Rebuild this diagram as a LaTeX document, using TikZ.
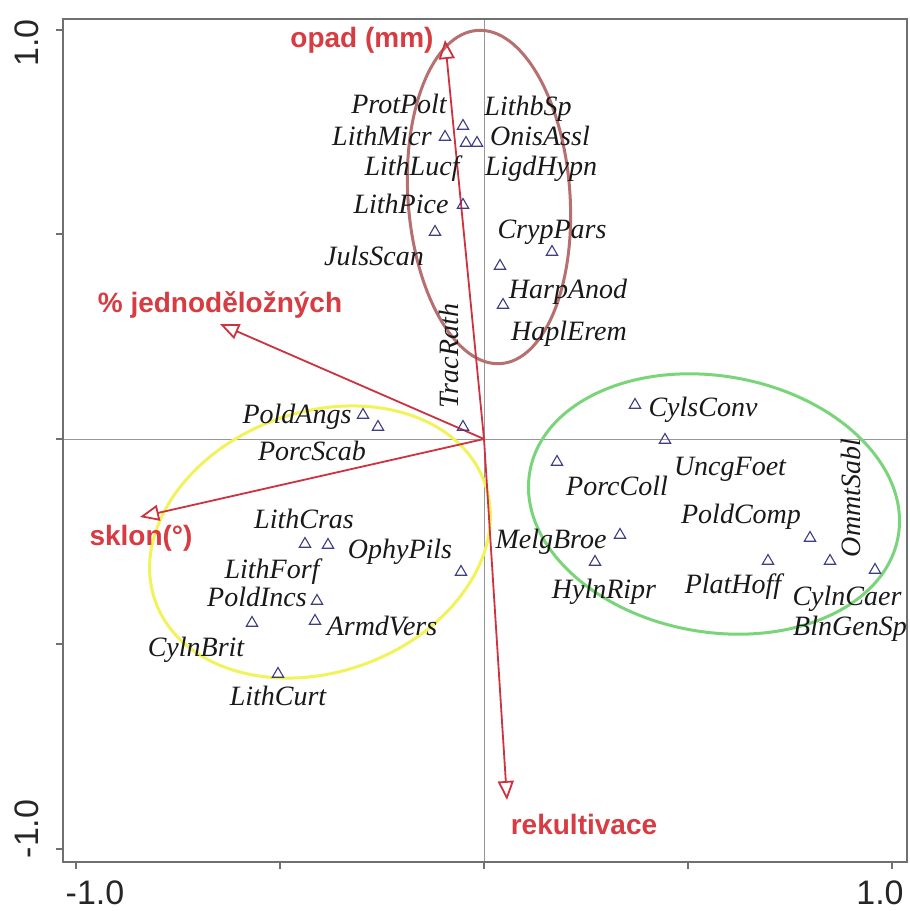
\documentclass[tikz,border=0pt]{standalone}
\usepackage{fontspec}
\setmainfont{Liberation Serif}
\setsansfont{Liberation Sans}
\usetikzlibrary{arrows.meta,shapes.geometric}
\definecolor{arrred}{RGB}{205,50,62}
\definecolor{labred}{RGB}{214,60,66}
\definecolor{ellbrown}{RGB}{182,112,112}
\definecolor{ellyellow}{RGB}{242,242,90}
\definecolor{ellgreen}{RGB}{122,212,122}
\definecolor{trinavy}{RGB}{62,62,132}
\definecolor{axisgrey}{RGB}{112,112,112}
\definecolor{midgrey}{RGB}{150,150,150}
\definecolor{spink}{RGB}{25,25,25}
\begin{document}
\begin{tikzpicture}[x=1pt,y=-1pt,
 spbase/.style={font=\fontsize{28}{30}\selectfont\itshape, text=spink, inner sep=0pt, text height=0.66em, text depth=0pt},
 sp/.style={spbase, yshift=-5pt},
 spv/.style={spbase, rotate=90},
 tri/.style={regular polygon, regular polygon sides=3, draw=trinavy, line width=1.1pt, minimum size=13pt, inner sep=0pt},
 envlab/.style={font=\fontsize{28}{30}\selectfont\sffamily\bfseries, text=labred, inner sep=0pt},
 envarr/.style={draw=arrred, line width=1.8pt, -{Triangle[open, length=19pt, width=16pt]}},
 ticklab/.style={font=\fontsize{34}{36}\selectfont\sffamily, text=black!85, inner sep=0pt},
 ell/.style={line width=3pt}
]
\useasboundingbox (0,0) rectangle (910,911);
\fill[white] (0,0) rectangle (910,911);
% centre lines
\draw[midgrey, line width=1pt] (484,19) -- (484,862);
\draw[midgrey, line width=1pt] (63,439) -- (907,439);
% frame
\draw[axisgrey, line width=2pt] (63,19) rectangle (907,862);
% ticks
\foreach \tx in {76,280,484,688,892} \draw[axisgrey, line width=1.5pt] (\tx,862) -- (\tx,869);
\foreach \ty in {30,234,439,644,849} \draw[axisgrey, line width=1.5pt] (56,\ty) -- (63,\ty);
\node[ticklab] (xlm) at (95,893) {-1.0};
\node[ticklab] (xlp) at (880,893) {1.0};
\node[ticklab, rotate=90] (ylp) at (27,43) {1.0};
\node[ticklab, rotate=90] (ylm) at (27,829) {-1.0};
% ellipses
\draw[ell, draw=ellbrown, rotate around={4:(489,197)}] (489,197) ellipse [x radius=81pt, y radius=167pt];
\draw[ell, draw=ellyellow, rotate around={20:(320,542)}] (320,542) ellipse [x radius=175pt, y radius=130pt];
\draw[ell, draw=ellgreen, rotate around={-10:(714,504)}] (714,504) ellipse [x radius=187pt, y radius=128pt];
% environmental arrows
\coordinate (O) at (484,439);
\coordinate (topad) at (445,40);
\coordinate (tjedn) at (220,324);
\coordinate (tsklon) at (140,517);
\coordinate (trek) at (507,800);
\draw[envarr] (O) -- (topad);
\draw[envarr] (O) -- (tjedn);
\draw[envarr] (O) -- (tsklon);
\draw[envarr] (O) -- (trek);
\node[envlab] (lopad) at (362,40) {opad (mm)};
\node[envlab] (ljedn) at (220,305) {\% jednoděložných};
\node[envlab] (lsklon) at (141,538) {sklon(°)};
\node[envlab] (lrek) at (584,824) {rekultivace};
% species triangles
\foreach \n/\px/\py in {a1/445/137, a2/463/126, a3/466/143, a4/477/143, a5/463/205, a6/435/232, a7/552/252, a8/500/266, a9/503/305,
 b1/363/415, b2/378/427, b3/463/427,
 c1/305/544, c2/328/545, c3/461/572, c4/317/601, c5/252/623, c6/315/621, c7/278/674,
 d1/635/405, d2/665/440, d3/557/462, d4/620/535, d5/595/562, d6/768/561, d7/810/538, d8/830/561, d9/875/570}
 \node[tri] (\n) at (\px,\py) {};
% species labels
\node[sp] (ProtPolt) at (399,105) {ProtPolt};
\node[sp] (LithbSp) at (528,107) {LithbSp};
\node[sp] (LithMicr) at (382,137) {LithMicr};
\node[sp] (OnisAssl) at (540,137) {OnisAssl};
\node[sp] (LithLucf) at (412,167) {LithLucf};
\node[sp] (LigdHypn) at (541,167) {LigdHypn};
\node[sp] (LithPice) at (401,205) {LithPice};
\node[sp] (CrypPars) at (552,230) {CrypPars};
\node[sp] (JulsScan) at (374,257) {JulsScan};
\node[sp] (HarpAnod) at (568,290) {HarpAnod};
\node[sp] (HaplErem) at (569,332) {HaplErem};
\node[spv] (TracRath) at (455,356) {TracRath};
\node[sp] (PoldAngs) at (297,415) {PoldAngs};
\node[sp] (PorcScab) at (312,452) {PorcScab};
\node[sp] (CylsConv) at (703,408) {CylsConv};
\node[sp] (UncgFoet) at (730,467) {UncgFoet};
\node[sp] (PorcColl) at (617,487) {PorcColl};
\node[sp] (PoldComp) at (741,515) {PoldComp};
\node[spv] (OmmtSabl) at (857,498) {OmmtSabl};
\node[sp] (LithCras) at (304,520) {LithCras};
\node[sp] (OphyPils) at (400,550) {OphyPils};
\node[sp] (LithForf) at (272,570) {LithForf};
\node[sp] (MelgBroe) at (551,540) {MelgBroe};
\node[sp] (PoldIncs) at (257,598) {PoldIncs};
\node[sp] (ArmdVers) at (382,627) {ArmdVers};
\node[sp] (HylnRipr) at (604,590) {HylnRipr};
\node[sp] (PlatHoff) at (733,585) {PlatHoff};
\node[sp] (CylnCaer) at (847,597) {CylnCaer};
\node[sp] (BlnGenSp) at (850,627) {BlnGenSp};
\node[sp] (CylnBrit) at (196,648) {CylnBrit};
\node[sp] (LithCurt) at (278,697) {LithCurt};
\end{tikzpicture}
\end{document}
